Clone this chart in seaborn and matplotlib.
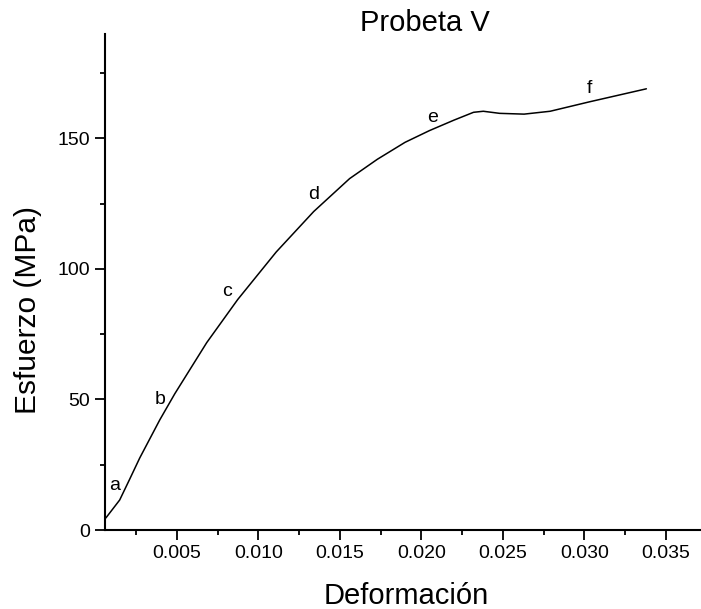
"""
Curva esfuerzo-deformación, Probeta V
"""
import pandas as pd
import matplotlib.pyplot as plt
import seaborn as sns
from matplotlib.ticker import MultipleLocator

# Datos
deformacion = [0.00065, 0.0015, 0.0021, 0.00273, 0.00396, 0.00488, 0.00684,
               0.00874, 0.0111, 0.0134, 0.0156, 0.0173, 0.0190, 0.0205, 0.0220,
               0.0232, 0.0238, 0.0248, 0.0263, 0.0279, 0.0303, 0.0338]
esfuerzo = [4.6, 11.5, 19.3, 27.6, 42.2, 52.2, 71.8,
            88.3, 106.5, 122.0, 134.6, 142.0, 148.5, 153.0, 157.0,
            160.0, 160.4, 159.6, 159.3, 160.4, 164.0, 169.0]

# Etiquetas de puntos sobre la curva
puntos = ['a', 'b', 'c', 'd', 'e', 'f']
puntos_x = [0.0012, 0.0040, 0.0081, 0.0134, 0.0207, 0.0303]
puntos_y = [17.0, 50.0, 91.5, 128.5, 158.0, 169.0]

df = pd.DataFrame({'Deformación': deformacion, 'Esfuerzo': esfuerzo})

sns.set_style('ticks')
plt.rcParams['font.family'] = ['Liberation Sans', 'DejaVu Sans']
plt.rcParams['text.color'] = 'black'
plt.rcParams['axes.labelcolor'] = 'black'
plt.rcParams['xtick.color'] = 'black'
plt.rcParams['ytick.color'] = 'black'

fig = plt.figure(figsize=(7.01, 6.09), dpi=100)
ax = fig.add_axes([0.1498, 0.1297, 0.8502, 0.8145])

sns.lineplot(data=df, x='Deformación', y='Esfuerzo', color='black', linewidth=1.1, ax=ax)

for t, px, py in zip(puntos, puntos_x, puntos_y):
    ax.text(px, py, t, fontsize=14, ha='center', va='center')

ax.set_xlim(0.0006, 0.03715)
ax.set_ylim(0, 190)
ax.xaxis.set_major_locator(MultipleLocator(0.005))
ax.xaxis.set_minor_locator(MultipleLocator(0.0025))
ax.yaxis.set_major_locator(MultipleLocator(50))
ax.yaxis.set_minor_locator(MultipleLocator(25))
ax.xaxis.set_major_formatter(plt.FuncFormatter(lambda v, p: f'{v:.3f}'))

for side in ['top', 'right']:
    ax.spines[side].set_visible(False)
for side in ['left', 'bottom']:
    ax.spines[side].set_linewidth(1.5)
    ax.spines[side].set_color('black')

ax.tick_params(which='major', direction='out', length=7, width=1.3, labelsize=14)
ax.tick_params(which='minor', direction='out', length=3.5, width=1.3)

ax.set_xlabel('Deformación', fontsize=21)
ax.set_ylabel('Esfuerzo (MPa)', fontsize=21.5)
ax.xaxis.set_label_coords(0.505, -0.133)
ax.yaxis.set_label_coords(-0.129, 0.4435)
ax.xaxis.label.set_va('center')
ax.yaxis.label.set_va('center')
fig.text(425 / 701, 1 - 23 / 609, 'Probeta V', fontsize=21, ha='center', va='center')

fig.savefig('out.png', dpi=100)
